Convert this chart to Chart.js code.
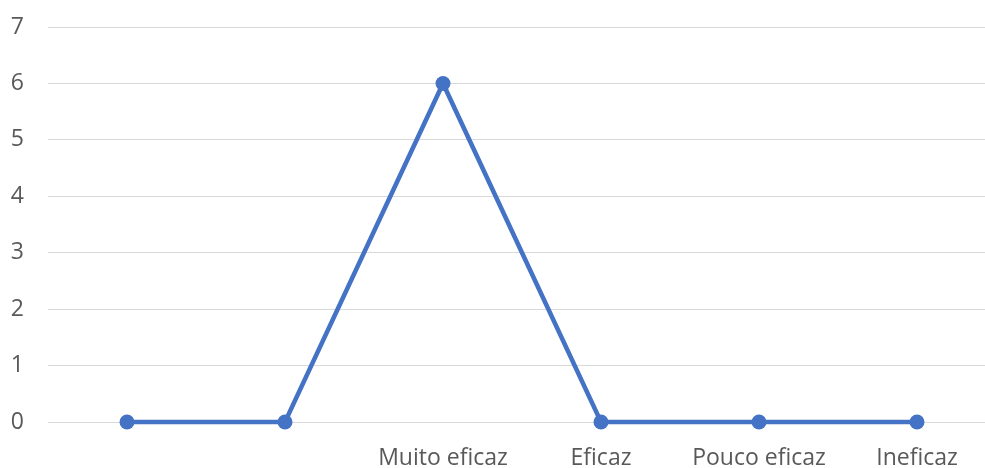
<!DOCTYPE html>
<html>
<head>
<meta charset="utf-8">
<script src="https://cdn.jsdelivr.net/npm/chart.js@4.4.1/dist/chart.umd.min.js"></script>
<style>
  html, body { margin: 0; padding: 0; background: #ffffff; overflow: hidden; }
  #wrap { width: 1012px; height: 468px; position: relative; }
</style>
</head>
<body>
<div id="wrap"><canvas id="chart"></canvas></div>
<script>
// Avaliação da eficácia: número de respostas por categoria
const categories = ["", "", "Muito eficaz", "Eficaz", "Pouco eficaz", "Ineficaz"];
const respostas = [0, 0, 6, 0, 0, 0];
const yTicks = [0, 1, 2, 3, 4, 5, 6, 7];

const azul = "#4472C4";
const cinzaTexto = "#595959";
const cinzaGrade = "#d9d9d9";
const fonte = { family: "'Open Sans', 'Noto Sans', sans-serif", size: 23 };

new Chart(document.getElementById("chart"), {
  type: "line",
  data: {
    labels: categories,
    datasets: [{
      data: respostas,
      borderColor: azul,
      backgroundColor: azul,
      borderWidth: 4.5,
      pointRadius: 7.5,
      pointHoverRadius: 7.5,
      pointBackgroundColor: azul,
      pointBorderColor: azul,
      pointBorderWidth: 0,
      tension: 0,
      fill: false,
      clip: false
    }]
  },
  options: {
    responsive: true,
    maintainAspectRatio: false,
    animation: false,
    layout: { padding: { top: 27, right: 16, left: 0, bottom: 0 } },
    plugins: { legend: { display: false }, tooltip: { enabled: false } },
    scales: {
      x: {
        offset: true,
        grid: { display: false, drawTicks: false },
        border: { display: false },
        ticks: { color: cinzaTexto, font: fonte, padding: 23, maxRotation: 0, autoSkip: false },
        afterFit: (s) => { s.height = 46; s.paddingLeft = 0; s.paddingRight = 0; }
      },
      y: {
        min: 0,
        max: 7,
        afterBuildTicks: (s) => { s.ticks = yTicks.map(v => ({ value: v })); },
        grid: { color: cinzaGrade, lineWidth: 1, drawTicks: false },
        border: { display: false },
        ticks: { color: cinzaTexto, font: fonte, padding: 24 },
        afterFit: (s) => { s.width = 48; s.paddingTop = 0; s.paddingBottom = 0; }
      }
    }
  }
});
</script>
</body>
</html>
